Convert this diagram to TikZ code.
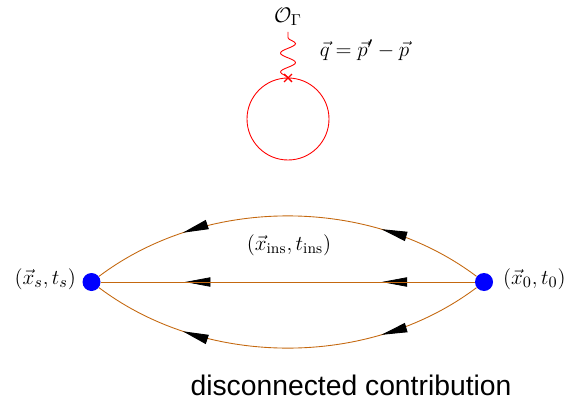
\documentclass[tikz,border=0pt]{standalone}
\usepackage{amsmath,amssymb}
\usepackage{xcolor}
\usepackage{fontspec}
\newfontfamily\labelfont{Liberation Sans}
\usetikzlibrary{arrows.meta,positioning,decorations.markings,decorations.pathmorphing,shapes.misc}
\definecolor{quark}{HTML}{C4680F}
\tikzset{
  quarkline/.style={quark,line width=0.5pt},
  source/.style={circle,fill=blue,inner sep=0pt,minimum size=0.36cm},
  blacktip/.tip={Triangle[length=0.52cm,width=0.19cm,color=black,fill=black]},
  lefttip/.style 2 args={decoration={markings,
    mark=at position #1 with {\arrow{blacktip}},
    mark=at position #2 with {\arrow{blacktip}}}},
}
\begin{document}
\begin{tikzpicture}[font=\fontsize{12.2}{14}\selectfont]
\useasboundingbox (0,0) rectangle (11.38,8.02);
% quark loop at the insertion
\node[draw=red,line width=0.5pt,circle,inner sep=0pt,minimum size=1.64cm] (loop) at (5.76,5.64) {};
\node[draw=red,cross out,line width=0.8pt,inner sep=0pt,minimum size=0.13cm] (cross) at (5.76,6.46) {};
\coordinate (top) at (5.76,7.38);
\draw[red,line width=0.5pt,decorate,decoration={snake,segment length=0.38cm,amplitude=0.15cm}] (cross.center) -- (top);
\node (op) at (5.76,7.68) {$\mathcal{O}_\Gamma$};
\node (mom) at (7.29,7.02) {$\vec{q}=\vec{p}'-\vec{p}$};
% hadron two-point function
\node[source] (snk) at (1.83,2.38) {};
\node[source] (src) at (9.68,2.38) {};
\draw[quarkline,lefttip={0.265}{0.765},postaction={decorate}] (src) to[bend right=37,looseness=0.91] (snk);
\draw[quarkline,lefttip={0.25}{0.776},preaction={decorate}] (src) -- (snk);
\draw[quarkline,lefttip={0.265}{0.765},postaction={decorate}] (src) to[bend left=37,looseness=0.91] (snk);
\node (ins) at (5.78,3.12) {$(\vec{x}_{\rm ins},t_{\rm ins})$};
\node[left=0cm of snk,yshift=0.06cm] (snklabel) {$(\vec{x}_s,t_s)$};
\node[right=0.07cm of src,yshift=0.06cm] (srclabel) {$(\vec{x}_0,t_0)$};
\node[font=\labelfont\fontsize{16.1}{19}\selectfont] (title) at (7.02,0.32) {disconnected contribution};
\end{tikzpicture}
\end{document}
